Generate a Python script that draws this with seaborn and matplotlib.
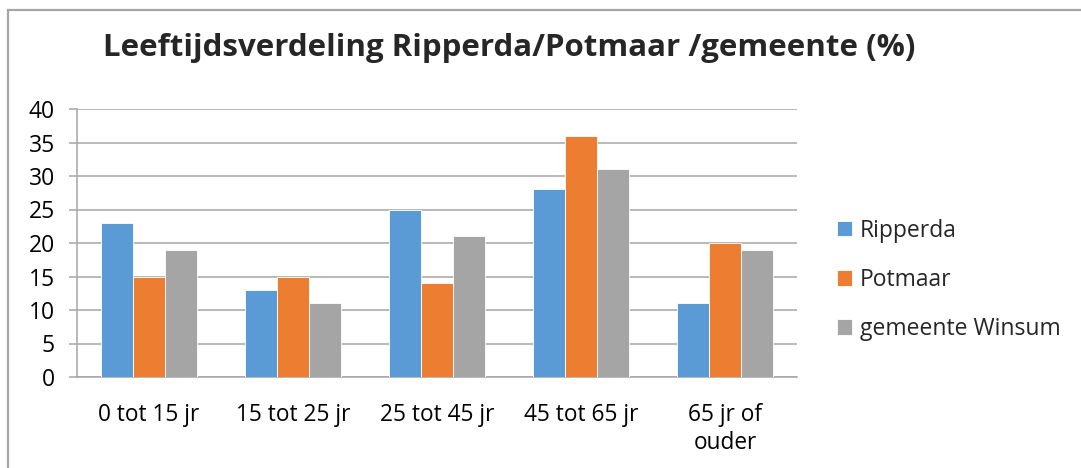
import pandas as pd
import matplotlib.pyplot as plt
import seaborn as sns
from matplotlib.patches import Rectangle

# chart data
categories = ['0 tot 15 jr', '15 tot 25 jr', '25 tot 45 jr', '45 tot 65 jr', '65 jr of\nouder']
ripperda = [23, 13, 25, 28, 11]
potmaar = [15, 15, 14, 36, 20]
winsum = [19, 11, 21, 31, 19]
series = ['Ripperda', 'Potmaar', 'gemeente Winsum']
colors = ['#5B9BD5', '#ED7D31', '#A5A5A5']

df = pd.DataFrame({'categorie': categories * 3,
                   'waarde': ripperda + potmaar + winsum,
                   'reeks': [s for s in series for _ in categories]})

sns.set_theme(style="white")
plt.rcParams['font.family'] = ['Open Sans', 'DejaVu Sans']

fig = plt.figure(figsize=(10.81, 4.68), dpi=100)
ax = fig.add_axes([77 / 1081, 1 - 377 / 468, 720 / 1081, 268 / 468])

sns.barplot(data=df, x='categorie', y='waarde', hue='reeks', palette=colors,
            saturation=1, width=0.667, edgecolor='white', linewidth=0.6,
            ax=ax, zorder=3)

ax.set_ylim(0, 40)
ax.set_yticks(range(0, 41, 5))
ax.set_xlim(-0.5, 4.5)
ax.set_xlabel('')
ax.set_ylabel('')
ax.yaxis.grid(True, color='#A6A6A6', linewidth=1.1, zorder=0)
ax.set_axisbelow(True)

for side in ['top', 'right']:
    ax.spines[side].set_visible(False)
for side in ['left', 'bottom']:
    ax.spines[side].set_color('#A6A6A6')
    ax.spines[side].set_linewidth(1.1)

# category separators as minor ticks
ax.set_xticks([i - 0.5 for i in range(6)], minor=True)
ax.tick_params(axis='x', which='major', length=0, pad=19, labelsize=16.3, colors='black')
ax.tick_params(axis='x', which='minor', length=6, width=1.1, color='#A6A6A6', direction='out')
ax.tick_params(axis='y', length=6, width=1.1, color='#A6A6A6', direction='out',
               labelsize=16.5, pad=10, left=True, labelcolor='black')
for lab in ax.get_xticklabels():
    lab.set_verticalalignment('top')
    lab.set_linespacing(1.2)

ax.legend(loc='center left', bbox_to_anchor=(1.027, 0.362), frameon=False, fontsize=16.5,
          handlelength=0.65, handleheight=0.65, handletextpad=0.35, labelspacing=1.1)

fig.text(0.471, 1 - 48 / 468, 'Leeftijdsverdeling Ripperda/Potmaar /gemeente (%)',
         ha='center', va='center', fontsize=22.5, fontweight='bold')

# outer chart border (runs off the right and bottom edges)
fig.patches.append(Rectangle((8 / 1081, -0.05), 1.1, 1 - 10 / 468 + 0.05,
                             transform=fig.transFigure, fill=False,
                             edgecolor='#A6A6A6', linewidth=1.6))

fig.savefig('out.png', dpi=100)
